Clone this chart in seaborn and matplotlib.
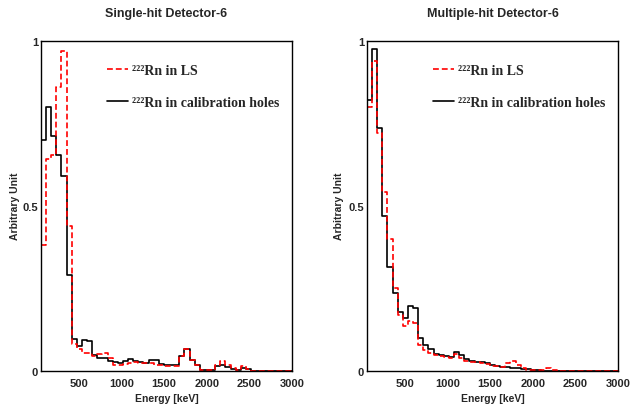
import numpy as np
import matplotlib
matplotlib.use("Agg")
import matplotlib.pyplot as plt
import seaborn as sns
from matplotlib.lines import Line2D

# ---- data (bins of 60 keV from 60 to 3000 keV) ----
bin_edges = list(range(60, 3001, 60))
bin_centers = [e + 30 for e in bin_edges[:-1]]

single_calib = [0.70, 0.80, 0.71, 0.655, 0.59, 0.29, 0.097, 0.075, 0.092, 0.090,
                0.047, 0.038, 0.038, 0.030, 0.027, 0.022, 0.030, 0.034, 0.030, 0.026,
                0.024, 0.032, 0.032, 0.020, 0.018, 0.016, 0.016, 0.046, 0.067, 0.033,
                0.016, 0.003, 0.003, 0.003, 0.013, 0.016, 0.010, 0.004, 0.003, 0.008,
                0.005, 0.0, 0.0, 0.0, 0.0, 0.0, 0.0, 0.0, 0.0]
single_ls = [0.38, 0.64, 0.655, 0.86, 0.97, 0.44, 0.081, 0.065, 0.055, 0.055,
             0.045, 0.050, 0.054, 0.038, 0.018, 0.018, 0.021, 0.022, 0.026, 0.024,
             0.022, 0.023, 0.018, 0.018, 0.013, 0.013, 0.013, 0.046, 0.067, 0.033,
             0.018, 0.002, 0.001, 0.002, 0.016, 0.028, 0.018, 0.008, 0.003, 0.013,
             0.006, 0.0, 0.0, 0.0, 0.0, 0.0, 0.0, 0.0, 0.0]
multi_calib = [0.82, 0.975, 0.735, 0.47, 0.315, 0.234, 0.177, 0.159, 0.197, 0.19,
               0.10, 0.078, 0.066, 0.052, 0.048, 0.045, 0.042, 0.058, 0.047, 0.036,
               0.028, 0.026, 0.025, 0.022, 0.016, 0.015, 0.012, 0.010, 0.009, 0.008,
               0.005, 0.004, 0.003, 0.002, 0.0, 0.0, 0.0, 0.0, 0.0, 0.0,
               0.0, 0.0, 0.0, 0.0, 0.0, 0.0, 0.0, 0.0, 0.0]
multi_ls = [0.80, 0.94, 0.72, 0.54, 0.40, 0.25, 0.17, 0.136, 0.15, 0.146,
            0.078, 0.062, 0.055, 0.048, 0.045, 0.042, 0.040, 0.052, 0.040, 0.030,
            0.026, 0.025, 0.024, 0.019, 0.015, 0.013, 0.011, 0.022, 0.028, 0.018,
            0.008, 0.003, 0.003, 0.003, 0.003, 0.008, 0.002, 0.0, 0.0, 0.0,
            0.0, 0.0, 0.0, 0.0, 0.0, 0.0, 0.0, 0.0, 0.0]

titles = ["Single-hit Detector-6", "Multiple-hit Detector-6"]
legend_labels = ["\u00b2\u00b2\u00b2Rn in LS", "\u00b2\u00b2\u00b2Rn in calibration holes"]
x_ticks = [500, 1000, 1500, 2000, 2500, 3000]
y_ticks = [0, 0.5, 1]
y_tick_labels = ["0", "0.5", "1"]

sns.set_style("white")
plt.rcParams["font.family"] = ["Liberation Sans", "DejaVu Sans"]

fig = plt.figure(figsize=(6.31, 4.10), dpi=100)
W, H = 631, 410
axL = fig.add_axes([41 / W, (H - 371.7) / H, 251 / W, 330 / H])
axR = fig.add_axes([367 / W, (H - 371.7) / H, 251 / W, 330 / H])

panels = [(axL, single_ls, single_calib, titles[0]),
          (axR, multi_ls, multi_calib, titles[1])]

for ax, ls_vals, cal_vals, title in panels:
    sns.histplot(x=bin_centers, weights=cal_vals, bins=bin_edges, element="step",
                 fill=False, color="black", linewidth=1.2, ax=ax)
    sns.histplot(x=bin_centers, weights=ls_vals, bins=bin_edges, element="step",
                 fill=False, color="#ff0000", linewidth=1.2, linestyle=(0, (3.5, 1.8)), ax=ax)
    ax.set_xlim(60, 3000)
    ax.set_ylim(0, 1)
    ax.set_xticks(x_ticks)
    ax.set_xticklabels([str(t) for t in x_ticks], fontsize=8, fontweight="bold")
    ax.set_yticks(y_ticks)
    ax.set_yticklabels(y_tick_labels, fontsize=8, fontweight="bold")
    ax.tick_params(axis="x", direction="in", length=10, width=1, pad=5, color="black")
    ax.tick_params(axis="y", direction="in", length=7, width=1, pad=2, color="black")
    for s in ax.spines.values():
        s.set_visible(True)
        s.set_color("black")
        s.set_linewidth(1.0)
    ax.set_xlabel("Energy [keV]", fontsize=7.5, fontweight="bold", labelpad=4)
    ax.set_ylabel("Arbitrary Unit", fontsize=7.5, fontweight="bold")
    ax.set_title(title, fontsize=9, fontweight="bold", y=1.075, pad=0)
    handles = [Line2D([], [], color="#ff0000", lw=1.2, linestyle=(0, (3.5, 1.8))),
               Line2D([], [], color="black", lw=1.2)]
    ax.legend(handles, legend_labels, loc="upper left", bbox_to_anchor=(0.263, 0.93),
              frameon=False, borderpad=0, borderaxespad=0, handlelength=1.5,
              handletextpad=0.3, labelspacing=1.35,
              prop={"family": "Liberation Serif", "weight": "bold", "size": 10})

axL.yaxis.set_label_coords(-0.085, 0.5)
axR.yaxis.set_label_coords(-0.09, 0.5)

fig.savefig("out.png", dpi=100)
